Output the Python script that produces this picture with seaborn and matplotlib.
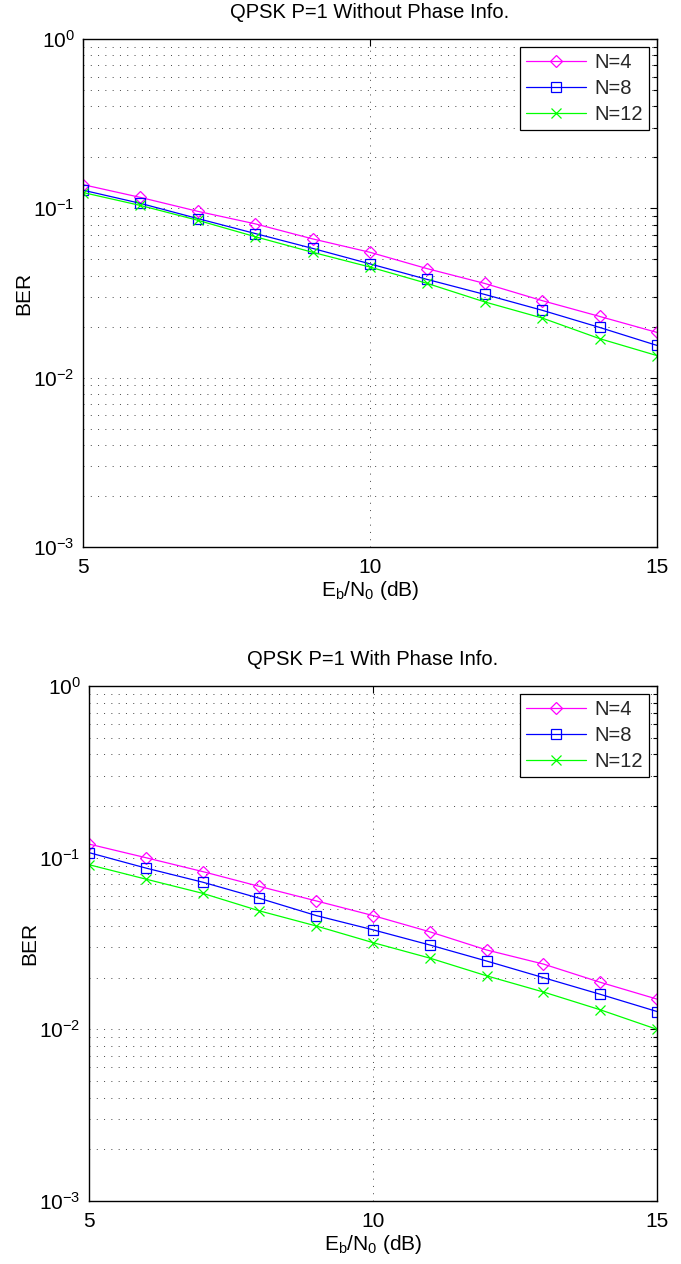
import numpy as np
import pandas as pd
import matplotlib
matplotlib.use("Agg")
import matplotlib.pyplot as plt
import seaborn as sns
from matplotlib.ticker import LogLocator, FixedLocator, NullFormatter

# ---------------- data ----------------
ebn0 = [5, 6, 7, 8, 9, 10, 11, 12, 13, 14, 15]
labels = ["N=4", "N=8", "N=12"]

ber_without_n4 = [0.138, 0.116, 0.096, 0.081, 0.066, 0.055, 0.044, 0.036, 0.0285, 0.023, 0.0185]
ber_without_n8 = [0.128, 0.107, 0.087, 0.071, 0.058, 0.047, 0.038, 0.031, 0.025, 0.0198, 0.0155]
ber_without_n12 = [0.124, 0.104, 0.085, 0.068, 0.055, 0.045, 0.036, 0.028, 0.0225, 0.017, 0.0135]

ber_with_n4 = [0.120, 0.100, 0.083, 0.068, 0.056, 0.046, 0.037, 0.029, 0.024, 0.0188, 0.015]
ber_with_n8 = [0.107, 0.087, 0.072, 0.058, 0.046, 0.038, 0.031, 0.025, 0.020, 0.016, 0.0127]
ber_with_n12 = [0.091, 0.075, 0.062, 0.049, 0.040, 0.032, 0.026, 0.0205, 0.0165, 0.013, 0.010]

titles = ["QPSK P=1 Without Phase Info.", "QPSK P=1 With Phase Info."]
xticks = [5, 10, 15]
yticks = [1e-3, 1e-2, 1e-1, 1e0]

colors = ["#ff00ff", "#0000ff", "#00ff00"]
markers = ["D", "s", "x"]
msizes = [6.5, 7.5, 6.5]

# ---------------- style ----------------
sns.set_theme(style="white")
plt.rcParams["font.family"] = ["Liberation Sans", "DejaVu Sans"]
plt.rcParams["mathtext.fontset"] = "custom"
plt.rcParams["mathtext.rm"] = "Liberation Sans"
plt.rcParams["mathtext.it"] = "Liberation Sans:italic"
plt.rcParams["mathtext.bf"] = "Liberation Sans:bold"
plt.rcParams["axes.unicode_minus"] = True

FS = 15

fig = plt.figure(figsize=(6.81, 12.64), dpi=100)
ax_top = fig.add_axes([83 / 681, 1 - 547 / 1264, (657 - 83) / 681, (547 - 39) / 1264])
ax_bot = fig.add_axes([89 / 681, 1 - 1201 / 1264, (657 - 89) / 681, (1201 - 686) / 1264])

datasets = [
    [ber_without_n4, ber_without_n8, ber_without_n12],
    [ber_with_n4, ber_with_n8, ber_with_n12],
]

for ax, series, title in zip([ax_top, ax_bot], datasets, titles):
    for vals, lab, col, mk, ms in zip(series, labels, colors, markers, msizes):
        df = pd.DataFrame({"EbN0": ebn0, "BER": vals})
        sns.lineplot(
            data=df, x="EbN0", y="BER", ax=ax, color=col, marker=mk,
            markersize=ms, markerfacecolor="none", markeredgecolor=col,
            markeredgewidth=0.9, linewidth=0.9, label=lab, errorbar=None,
        )
    ax.set_yscale("log")
    ax.set_xlim(5, 15)
    ax.set_ylim(1e-3, 1e0)
    ax.xaxis.set_major_locator(FixedLocator(xticks))
    ax.set_xticklabels([str(t) for t in xticks])
    ax.yaxis.set_major_locator(FixedLocator(yticks))
    ax.yaxis.set_minor_locator(LogLocator(base=10, subs=np.arange(2, 10), numticks=20))
    ax.yaxis.set_minor_formatter(NullFormatter())
    ax.set_yticklabels([r"$10^{%d}$" % int(np.log10(t)) for t in yticks])
    ax.tick_params(which="both", direction="in", top=True, right=True,
                   labelsize=FS, colors="black", width=0.8)
    ax.tick_params(which="major", length=5)
    ax.tick_params(axis="x", which="major", pad=8)
    ax.tick_params(axis="y", which="major", pad=6)
    ax.tick_params(which="minor", length=3)
    ax.grid(True, which="major", axis="both", color="#444444",
            linestyle=(0, (1, 6.5)), linewidth=0.7)
    ax.grid(True, which="minor", axis="y", color="#444444",
            linestyle=(0, (1, 6.5)), linewidth=0.7)
    for sp in ax.spines.values():
        sp.set_visible(True)
        sp.set_color("black")
        sp.set_linewidth(1.0)
    ax.set_title(title, fontsize=14.5, color="black", pad=15)
    ax.set_xlabel(r"$\mathrm{E_b/N_0}$ (dB)", fontsize=FS, color="black", labelpad=1)
    ax.set_ylabel("BER", fontsize=FS, color="black", labelpad=0)
    leg = ax.legend(loc="upper right", fontsize=14.5, frameon=True, fancybox=False,
                    edgecolor="black", framealpha=1, handlelength=3.0,
                    borderaxespad=0.4, borderpad=0.3, labelspacing=0.35,
                    handletextpad=0.4)
    leg.get_frame().set_linewidth(0.9)

fig.savefig("out.png", dpi=100, facecolor="white")
